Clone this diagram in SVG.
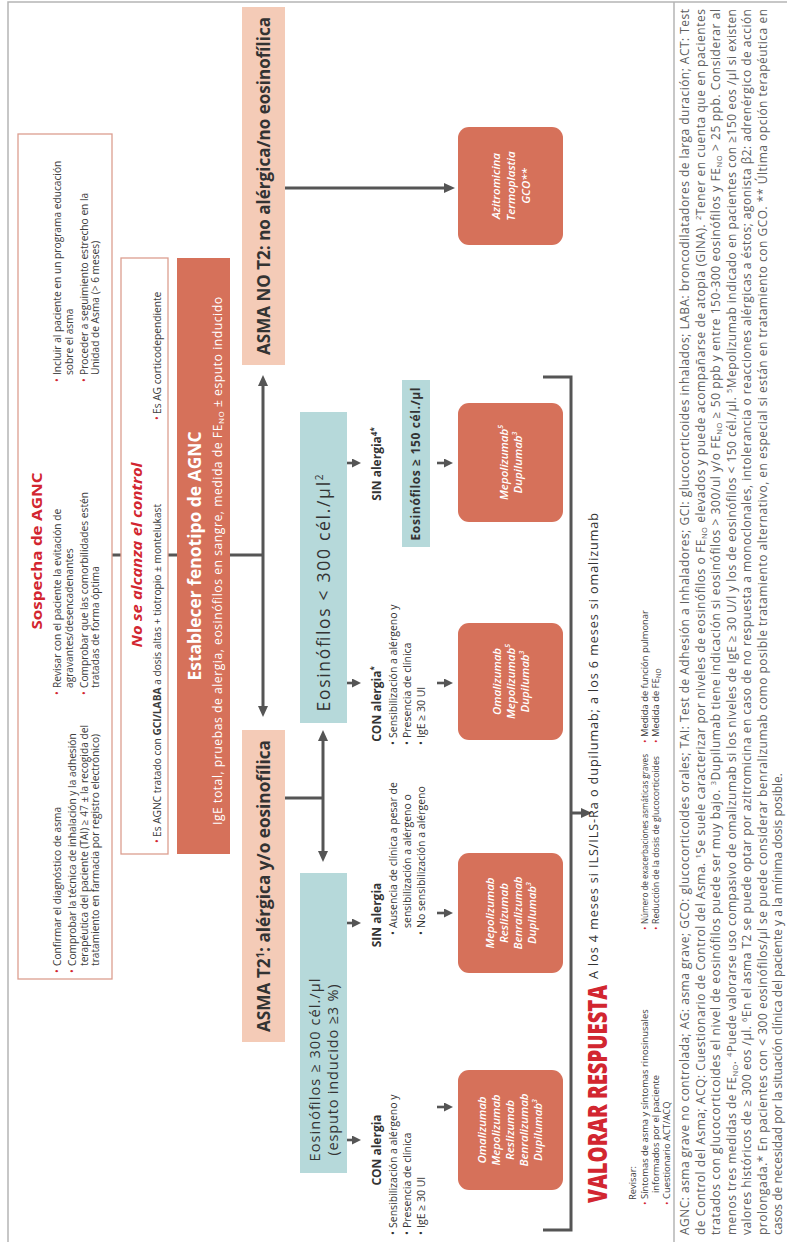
<svg xmlns="http://www.w3.org/2000/svg" width="787" height="1245" viewBox="0 0 787 1245">
<defs>
<marker id="ah" markerUnits="userSpaceOnUse" markerWidth="11" markerHeight="11" viewBox="0 0 11 11" refX="3" refY="5.5" orient="auto-start-reverse">
<path d="M0,0.5 L11,5.5 L0,10.5 z" fill="#555"/>
</marker>
<marker id="sh" markerUnits="userSpaceOnUse" markerWidth="9" markerHeight="9" viewBox="0 0 9 9" refX="2" refY="4.5" orient="auto">
<path d="M0,0 L9,4.5 L0,9 z" fill="#555"/>
</marker>
</defs>
<style>
text{font-family:"Open Sans","Liberation Sans",sans-serif;}
.ob{fill:#fff;stroke:#dc9e90;stroke-width:1.3}
.or{fill:#d6715a}
.pe{fill:#f4cbb7}
.te{fill:#b6d9da}
.bd{fill:none;stroke:#b5b5b5;stroke-width:1.5}
.cn{fill:none;stroke:#555;stroke-width:3}
.cs{fill:none;stroke:#555;stroke-width:2.6}
.red{fill:#d22630}
.hd{fill:#333;font-weight:700;text-anchor:middle}
.dr{fill:#fff;font-size:11.5px;font-style:italic;font-weight:600;text-anchor:middle}
.bl{fill:#3d3d3d;font-size:10.2px}
.rb{fill:#d22630;font-size:10.2px}
.rv{fill:#3d3d3d;font-size:9.4px}
.rr{fill:#d22630;font-size:9.4px}
.li{fill:#333;font-size:10.5px}
.lb{fill:#333;font-size:12px;font-weight:700;text-anchor:middle}
.fn{fill:#606060;font-size:12px}
</style>
<rect width="787" height="1245" fill="#fff"/>
<g transform="translate(0,1245) rotate(-90)">
<g id="frame">
<path class="bd" d="M3,8 L1243,8 L1243,787 M3,674 L1243,674"/>
</g>

<g id="connectors">
<path class="cn" d="M690,112 V121 M690,168 V177 M690,230 V263"/>
<path class="cn" d="M536,263 L862,263" marker-start="url(#ah)" marker-end="url(#ah)"/>
<path class="cn" d="M447,285 V323"/>
<path class="cn" d="M391,323 L507,323" marker-start="url(#ah)" marker-end="url(#ah)"/>
<path class="cn" d="M1057,285 V447" marker-end="url(#ah)"/>
<path class="cs" d="M105,347 V354" marker-end="url(#sh)"/>
<path class="cs" d="M322,347 V354" marker-end="url(#sh)"/>
<path class="cs" d="M562,347 V354" marker-end="url(#sh)"/>
<path class="cs" d="M782,347 V354" marker-end="url(#sh)"/>
<path class="cs" d="M138,437 V446" marker-end="url(#sh)"/>
<path class="cs" d="M332,437 V446" marker-end="url(#sh)"/>
<path class="cs" d="M562,437 V446" marker-end="url(#sh)"/>
<path class="cs" d="M782,437 V446" marker-end="url(#sh)"/>
<path class="cn" d="M15,543 V571 H868 V543"/>
<path class="cn" d="M432,571 V584" marker-end="url(#ah)"/>
</g>

<g id="sospecha">
<rect class="ob" x="266" y="18" width="845" height="94"/>
<text class="red" x="694" y="42" font-size="15" font-weight="700" text-anchor="middle" textLength="157" lengthAdjust="spacingAndGlyphs">Sospecha de AGNC</text>
<text class="rb" x="272" y="61">•</text>
<text class="bl" x="279" y="61">Confirmar el diagnóstico de asma</text>
<text class="rb" x="272" y="76">•</text>
<text class="bl" x="279" y="76">Comprobar la técnica de inhalación y la adhesión</text>
<text class="bl" x="279" y="87.5">terapéutica del paciente (TAI) ≥ 47 ± la recogida del</text>
<text class="bl" x="279" y="99">tratamiento en farmacia por registro electrónico)</text>
<text class="rb" x="550" y="61">•</text>
<text class="bl" x="557" y="61">Revisar con el paciente la evitación de</text>
<text class="bl" x="557" y="72.5">agravantes/desencadenantes</text>
<text class="rb" x="550" y="87.5">•</text>
<text class="bl" x="557" y="87.5">Comprobar que las comorbilidades estén</text>
<text class="bl" x="557" y="99">tratadas de forma óptima</text>
<text class="rb" x="863" y="61">•</text>
<text class="bl" x="870" y="61">Incluir al paciente en un programa educación</text>
<text class="bl" x="870" y="72.5">sobre el asma</text>
<text class="rb" x="863" y="87.5">•</text>
<text class="bl" x="870" y="87.5">Proceder a seguimiento estrecho en la</text>
<text class="bl" x="870" y="99">Unidad de Asma (&gt; 6 meses)</text>
</g>

<g id="no-control">
<rect class="ob" x="391" y="121" width="596" height="47"/>
<text class="red" x="690" y="142" font-size="14.5" font-weight="700" font-style="italic" text-anchor="middle" textLength="185" lengthAdjust="spacingAndGlyphs">No se alcanza el control</text>
<text class="rb" x="402" y="161">•</text>
<text class="bl" x="408" y="161">Es AGNC tratado con <tspan font-weight="700">GCI/LABA</tspan> a dosis altas + tiotropio ± montelukast</text>
<text class="rb" x="825" y="161">•</text>
<text class="bl" x="831" y="161">Es AG corticodependiente</text>
</g>

<g id="establecer">
<rect class="or" x="391" y="177" width="596" height="53"/>
<text x="689" y="201" fill="#fff" font-size="17" font-weight="700" text-anchor="middle" textLength="249" lengthAdjust="spacingAndGlyphs">Establecer fenotipo de AGNC</text>
<text x="684" y="222" fill="#fff" font-size="12.2" text-anchor="middle" textLength="528">IgE total, pruebas de alergia, eosinófilos en sangre, medida de FE<tspan font-size="8" dy="2">NO</tspan><tspan dy="-2"> ± esputo inducido</tspan></text>
</g>

<g id="asma-no-t2">
<rect class="pe" x="880" y="242" width="358" height="43"/>
<text class="hd" x="1059" y="270" font-size="17" textLength="338" lengthAdjust="spacingAndGlyphs">ASMA NO T2: no alérgica/no eosinofílica</text>
</g>

<g id="asma-t2">
<rect class="pe" x="203" y="242" width="312" height="43"/>
<text class="hd" x="359" y="270" font-size="17" textLength="292" lengthAdjust="spacingAndGlyphs">ASMA T2<tspan font-size="11" dy="-6">1</tspan><tspan dy="6">: alérgica y/o eosinofílica</tspan></text>
</g>

<g id="azitromicina">
<rect class="or" x="1000" y="458" width="118" height="105" rx="11"/>
<text class="dr" x="1059" y="500">Azitromicina</text>
<text class="dr" x="1059" y="515">Termoplastia</text>
<text class="dr" x="1059" y="530">GCO**</text>
</g>

<g id="eos-300-mas">
<rect class="te" x="72" y="300" width="300" height="47"/>
<text x="175" y="320" fill="#333" font-size="14.5" text-anchor="middle" textLength="183">Eosinófilos ≥ 300 cél./µl</text>
<text x="175" y="338" fill="#333" font-size="14.5" text-anchor="middle" textLength="171">(esputo inducido ≥3 %)</text>
</g>

<g id="eos-300-menos">
<rect class="te" x="522" y="300" width="311" height="47"/>
<text x="652" y="330" fill="#333" font-size="17.5" text-anchor="middle" textLength="237">Eosinófilos &lt; 300 cél./µl<tspan font-size="10" dy="-7">2</tspan></text>
</g>

<g id="con-alergia-a">
<text class="lb" x="95" y="381">CON alergia</text>
<text class="li" x="10" y="397">•</text><text class="li" x="17" y="397">Sensibilización a alérgeno y</text>
<text class="li" x="10" y="411">•</text><text class="li" x="17" y="411">Presencia de clínica</text>
<text class="li" x="10" y="425">•</text><text class="li" x="17" y="425">IgE ≥ 30 UI</text>
</g>
<g id="farmacos-a">
<rect class="or" x="55" y="458" width="120" height="105" rx="11"/>
<text class="dr" x="115" y="486">Omalizumab</text>
<text class="dr" x="115" y="500">Mepolizumab</text>
<text class="dr" x="115" y="514">Reslizumab</text>
<text class="dr" x="115" y="528">Benralizumab</text>
<text class="dr" x="115" y="542">Dupilumab<tspan font-size="7" dy="-5">3</tspan></text>
</g>

<g id="sin-alergia-b">
<text class="lb" x="330" y="381">SIN alergia</text>
<text class="li" x="310" y="397">•</text><text class="li" x="317" y="397">Ausencia de clínica a pesar de</text>
<text class="li" x="317" y="411">sensibilización a alérgeno o</text>
<text class="li" x="310" y="425">•</text><text class="li" x="317" y="425">No sensibilización a alérgeno</text>
</g>
<g id="farmacos-b">
<rect class="or" x="272" y="458" width="120" height="105" rx="11"/>
<text class="dr" x="332" y="493.5">Mepolizumab</text>
<text class="dr" x="332" y="507.5">Reslizumab</text>
<text class="dr" x="332" y="521.5">Benralizumab</text>
<text class="dr" x="332" y="535.5">Dupilumab<tspan font-size="7" dy="-5">3</tspan></text>
</g>

<g id="con-alergia-c">
<text class="lb" x="541" y="381">CON alergia<tspan font-size="8" dy="-4">*</tspan></text>
<text class="li" x="500" y="397">•</text><text class="li" x="507" y="397">Sensibilización a alérgeno y</text>
<text class="li" x="500" y="411">•</text><text class="li" x="507" y="411">Presencia de clínica</text>
<text class="li" x="500" y="425">•</text><text class="li" x="507" y="425">IgE ≥ 30 UI</text>
</g>
<g id="farmacos-c">
<rect class="or" x="505" y="458" width="117" height="105" rx="11"/>
<text class="dr" x="563.5" y="500.5">Omalizumab</text>
<text class="dr" x="563.5" y="514.5">Mepolizumab<tspan font-size="7" dy="-5">5</tspan></text>
<text class="dr" x="563.5" y="528.5">Dupilumab<tspan font-size="7" dy="-5">3</tspan></text>
</g>

<g id="sin-alergia-d">
<text class="lb" x="781" y="381">SIN alergia<tspan font-size="8" dy="-4">4*</tspan></text>
</g>
<g id="eos-150">
<rect class="te" x="698" y="402" width="167" height="28"/>
<text x="781" y="420" fill="#333" font-size="12" font-weight="700" text-anchor="middle" textLength="153">Eosinófilos ≥ 150 cél./µl</text>
</g>
<g id="farmacos-d">
<rect class="or" x="723" y="458" width="119" height="105" rx="11"/>
<text class="dr" x="782.5" y="507.5">Mepolizumab<tspan font-size="7" dy="-5">5</tspan></text>
<text class="dr" x="782.5" y="521.5">Dupilumab<tspan font-size="7" dy="-5">3</tspan></text>
</g>

<g id="valorar">
<text class="red" x="42" y="607" font-size="27" font-weight="800" textLength="218" lengthAdjust="spacingAndGlyphs">VALORAR RESPUESTA</text>
<text x="266" y="598" fill="#333" font-size="12.6" textLength="466">A los 4 meses si ILS/ILS-Ra o dupilumab; a los 6 meses si omalizumab</text>
<text class="rv" x="45" y="636">Revisar:</text>
<text class="rr" x="40" y="648">•</text><text class="rv" x="46" y="648">Síntomas de asma y síntomas rinosinusales</text>
<text class="rv" x="52" y="659">informados por el paciente</text>
<text class="rr" x="40" y="670">•</text><text class="rv" x="46" y="670">Cuestionario ACT/ACQ</text>
<text class="rr" x="315" y="648">•</text><text class="rv" x="321" y="648" textLength="170" lengthAdjust="spacingAndGlyphs">Número de exacerbaciones asmáticas graves</text>
<text class="rr" x="315" y="659">•</text><text class="rv" x="321" y="659" textLength="168" lengthAdjust="spacingAndGlyphs">Reducción de la dosis de glucocorticoides</text>
<text class="rr" x="502" y="648">•</text><text class="rv" x="508" y="648">Medida de función pulmonar</text>
<text class="rr" x="502" y="659">•</text><text class="rv" x="508" y="659">Medida de FE<tspan font-size="6.5" dy="2">NO</tspan></text>
</g>

<g id="notas">
<text class="fn" x="10" y="689" textLength="1226">AGNC: asma grave no controlada; AG: asma grave; GCO: glucocorticoides orales; TAI: Test de Adhesión a Inhaladores; GCI: glucocorticoides inhalados; LABA: broncodilatadores de larga duración; ACT: Test</text>
<text class="fn" x="10" y="704.5" textLength="1226">de Control del Asma; ACQ: Cuestionario de Control del Asma. <tspan font-size="7.5" dy="-4">1</tspan><tspan dy="4">Se suele caracterizar por niveles de eosinófilos o FE</tspan><tspan font-size="7.5" dy="2">NO</tspan><tspan dy="-2"> elevados y puede acompañarse de atopia (GINA). </tspan><tspan font-size="7.5" dy="-4">2</tspan><tspan dy="4">Tener en cuenta que en pacientes</tspan></text>
<text class="fn" x="10" y="720" textLength="1226">tratados con glucocorticoides el nivel de eosinófilos puede ser muy bajo. <tspan font-size="7.5" dy="-4">3</tspan><tspan dy="4">Dupilumab tiene indicación si eosinófilos &gt; 300/ul y/o FE</tspan><tspan font-size="7.5" dy="2">NO</tspan><tspan dy="-2"> ≥ 50 ppb y entre 150-300 eosinófilos y FE</tspan><tspan font-size="7.5" dy="2">NO</tspan><tspan dy="-2"> &gt; 25 ppb. Considerar al</tspan></text>
<text class="fn" x="10" y="735.5" textLength="1226">menos tres medidas de FE<tspan font-size="7.5" dy="2">NO</tspan><tspan dy="-2">. </tspan><tspan font-size="7.5" dy="-4">4</tspan><tspan dy="4">Puede valorarse uso compasivo de omalizumab si los niveles de IgE ≥ 30 U/l y los de eosinófilos &lt; 150 cél./µl. </tspan><tspan font-size="7.5" dy="-4">5</tspan><tspan dy="4">Mepolizumab indicado en pacientes con ≥150 eos /µl si existen</tspan></text>
<text class="fn" x="10" y="751" textLength="1226">valores históricos de ≥ 300 eos /µl. <tspan font-size="7.5" dy="-4">6</tspan><tspan dy="4">En el asma T2 se puede optar por azitromicina en caso de no respuesta a monoclonales, intolerancia o reacciones alérgicas a éstos; agonista β2: adrenérgico de acción</tspan></text>
<text class="fn" x="10" y="766.5" textLength="1226">prolongada.* En pacientes con &lt; 300 eosinófilos/µl se puede considerar benralizumab como posible tratamiento alternativo, en especial si están en tratamiento con GCO. ** Última opción terapéutica en</text>
<text class="fn" x="10" y="782">casos de necesidad por la situación clínica del paciente y a la mínima dosis posible.</text>
</g>
</g>
</svg>
